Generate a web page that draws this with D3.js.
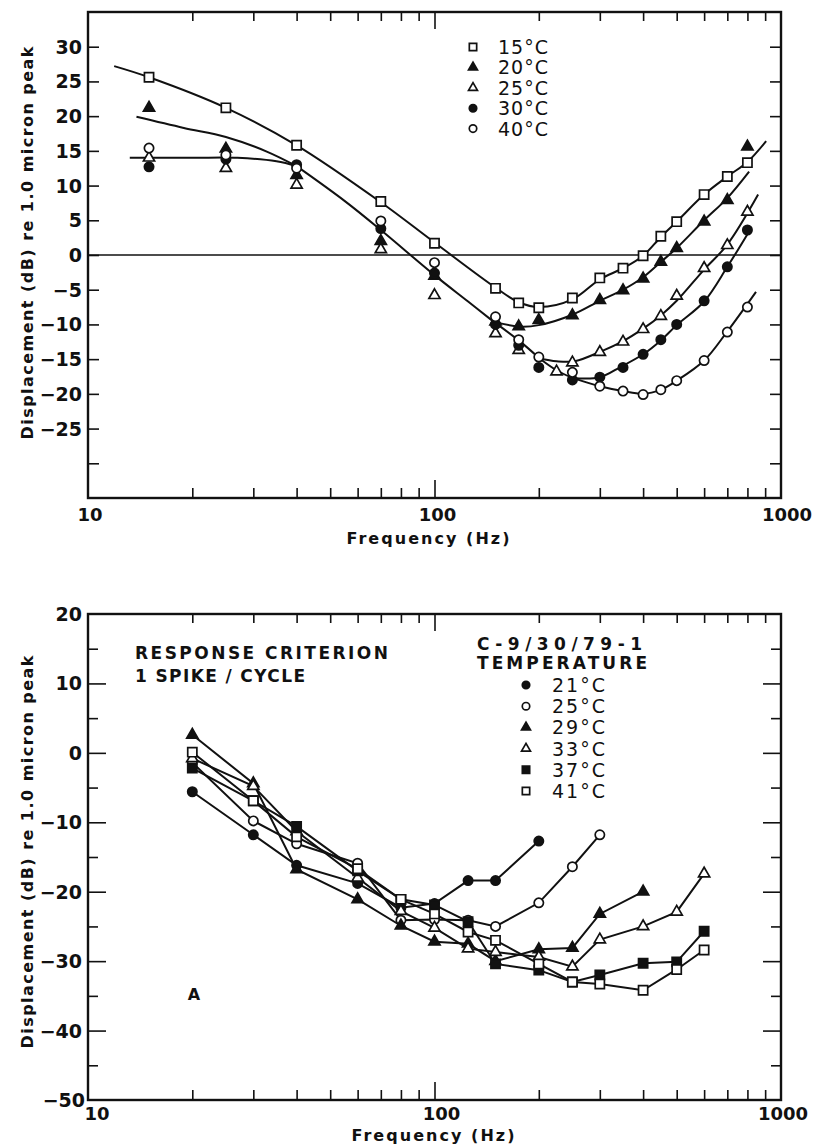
<!DOCTYPE html>
<html>
<head>
<meta charset="utf-8">
<script src="https://cdn.jsdelivr.net/npm/d3@7"></script>
<style>
  body { margin: 0; background: #fff; }
  text { font-family: "DejaVu Sans", sans-serif; fill: #111; font-weight: bold; }
  .tick line { stroke: #111; stroke-width: 1.6; }
</style>
</head>
<body>
<svg id="fig" width="831" height="1147"></svg>
<script>
// ---------- Upper panel: displacement thresholds, fitted curves ----------
const topFreqs   = [15, 25, 40, 70, 100, 150, 175, 200, 250, 300, 350, 400, 450, 500, 600, 700, 800];
const top25Freqs = [15, 25, 40, 70, 100, 150, 175, 225, 250, 300, 350, 400, 450, 500, 600, 700, 800];
const top15 = [25.6, 21.2, 15.8, 7.7, 1.7, -4.8, -6.9, -7.6, -6.2, -3.3, -1.9, -0.1, 2.7, 4.8, 8.7, 11.3, 13.3];
const top20 = [21.2, 15.3, 11.5, 2.0, -3.0, -9.6, -10.3, -9.4, -8.7, -6.5, -5.1, -3.4, -1.0, 1.0, 4.8, 7.9, 15.6];
const top25 = [14.0, 12.5, 10.1, 0.8, -5.8, -11.3, -13.7, -16.8, -15.5, -14.0, -12.5, -10.7, -8.8, -5.9, -1.9, 1.4, 6.2];
const top30 = [12.7, 13.8, 13.0, 3.8, -2.6, -10.0, -13.0, -16.2, -18.0, -17.6, -16.2, -14.3, -12.2, -10.0, -6.6, -1.7, 3.6];
const top40 = [15.4, 14.4, 12.5, 4.9, -1.1, -8.9, -12.2, -14.7, -16.9, -18.9, -19.6, -20.1, -19.4, -18.1, -15.2, -11.1, -7.5];

// hand-fitted curves, as [frequency, dB] nodes; branches share their junction node
const fit15      = [[11.9, 27.2], [15, 25.6], [25, 21.2], [40, 15.8], [70, 7.6], [100, 1.8], [150, -4.7], [175, -6.8], [200, -7.5], [250, -6.4], [300, -3.5], [350, -1.9], [400, -0.1], [450, 2.6], [500, 4.8], [600, 8.7], [700, 11.3], [800, 13.4], [906, 16.4]];
const fitLow20   = [[13.8, 19.9], [18.9, 18.3], [25, 17.0], [32.8, 14.9], [40, 12.8]];
const fitLowFlat = [[13.2, 14.0], [20, 14.0], [27, 14.0], [35, 13.5], [40, 12.8]];
const fitTrunk   = [[40, 12.8], [55, 7.8], [70, 3.6], [100, -2.9], [125, -6.7], [148, -9.6]];
const fit20      = [[148, -9.6], [175, -10.3], [200, -10.1], [250, -8.6], [300, -6.6], [350, -5.0], [400, -3.2], [450, -1.0], [500, 1.0], [600, 5.0], [700, 8.2], [809, 12.0]];
const fitTrunk2  = [[148, -9.6], [175, -12.3], [201, -14.9]];
const fit25      = [[201, -14.9], [225, -15.3], [254, -15.3], [305, -13.8], [350, -12.4], [400, -10.6], [450, -8.7], [500, -6.6], [600, -2.1], [700, 1.5], [859, 8.7]];
const fitTrunk3  = [[201, -14.9], [225, -16.6], [250, -17.7]];
const fit30      = [[250, -17.7], [300, -17.6], [345, -16.1], [400, -14.3], [450, -12.3], [500, -10.1], [600, -6.7], [700, -1.7], [809, 3.4]];
const fit40      = [[250, -17.7], [300, -18.9], [350, -19.6], [400, -20.0], [450, -19.4], [500, -18.1], [600, -15.2], [700, -11.0], [847, -5.3]];

const topTickLabels = [30, 25, 20, 15, 10, 5, 0, -5, -10, -15, -20, -25];
const topTicks = d3.range(-30, 35, 5);

// ---------- Lower panel: 1 spike/cycle thresholds ----------
const botFreqs = [20, 30, 40, 60, 80, 100, 125, 150, 200, 250, 300, 400, 500, 600];
const b21 = [-5.6, -11.8, -16.2, -18.8, -22.3, -21.7, -18.4, -18.4, -12.7];
const b25 = [-1.4, -9.8, -13.1, -15.9, -24.1, -24.0, -24.1, -25.0, -21.6, -16.4, -11.8];
const b29 = [2.6, -4.4, -16.8, -21.1, -24.9, -27.2, -27.5, -30.0, -28.3, -28.1, -23.2, -20.0];
const b33 = [-0.8, -4.8, -11.3, -18.0, -22.8, -25.2, -28.2, -28.7, -29.4, -30.8, -26.9, -25.0, -22.9, -17.4];
const b37 = [-2.2, -6.9, -10.6, -17.0, -21.1, -21.9, -24.3, -30.4, -31.3, -33.0, -32.0, -30.3, -30.1, -25.7];
const b41 = [0.1, -6.9, -12.1, -16.7, -21.1, -23.2, -25.8, -27.0, -30.4, -33.0, -33.3, -34.2, -31.2, -28.4];

const botTickLabels = [10, 0, -10, -20, -30, -40];
const botMinorTicks = [15, 5, -5, -15, -25, -35, -45];

const freqMinor = [20, 30, 40, 50, 60, 70, 80, 90, 200, 300, 400, 500, 600, 700, 800, 900];
const freqMajor = [100];
const freqLabels = ["10", "100", "1000"];

// ---------- scales ----------
const svg = d3.select("#fig");
const xTop = d3.scaleLog().domain([10, 1000]).range([88, 781]);
const yTop = d3.scaleLinear().domain([-35, 35]).range([498, 12]);
const xBot = d3.scaleLog().domain([10, 1000]).range([88, 781]);
const yBot = d3.scaleLinear().domain([-50, 20]).range([1100, 614]);

const shapes = { circle: d3.symbolCircle, square: d3.symbolSquare, triangle: d3.symbolTriangle };
const shapeSize = { circle: 68, square: 84, triangle: 54 };

function marker(sel, shape, filled, scale = 1) {
  sel.attr("d", d3.symbol().type(shapes[shape]).size(shapeSize[shape] * scale * scale))
    .attr("fill", filled ? "#111" : "#fff")
    .attr("stroke", "#111")
    .attr("stroke-width", 1.7);
}

function frame(x, y, opt) {
  const g = svg.append("g");
  const [x0, x1] = x.range();
  const [yb, yt] = y.range();
  const clean = a => a.select(".domain").remove();
  // frequency ticks, pointing inward from bottom and top
  g.append("g").attr("transform", `translate(0,${yb})`)
    .call(d3.axisBottom(x).tickValues(freqMinor).tickSize(-10).tickFormat("")).call(clean);
  g.append("g").attr("transform", `translate(0,${yb})`)
    .call(d3.axisBottom(x).tickValues(freqMajor).tickSize(-18).tickFormat("")).call(clean);
  g.append("g").attr("transform", `translate(0,${yt})`)
    .call(d3.axisTop(x).tickValues(freqMinor).tickSize(-9).tickFormat("")).call(clean);
  g.append("g").attr("transform", `translate(0,${yt})`)
    .call(d3.axisTop(x).tickValues(freqMajor).tickSize(-17).tickFormat("")).call(clean);
  // level ticks, pointing inward from left and right
  g.append("g").attr("transform", `translate(${x0},0)`)
    .call(d3.axisLeft(y).tickValues(opt.major).tickSize(-opt.majorLen).tickFormat("")).call(clean);
  g.append("g").attr("transform", `translate(${x1},0)`)
    .call(d3.axisRight(y).tickValues(opt.major).tickSize(-opt.majorLen).tickFormat("")).call(clean);
  if (opt.minor) {
    g.append("g").attr("transform", `translate(${x0},0)`)
      .call(d3.axisLeft(y).tickValues(opt.minor).tickSize(-10).tickFormat("")).call(clean);
    g.append("g").attr("transform", `translate(${x1},0)`)
      .call(d3.axisRight(y).tickValues(opt.minor).tickSize(-10).tickFormat("")).call(clean);
  }
  g.append("rect").attr("x", x0).attr("y", yt).attr("width", x1 - x0).attr("height", yb - yt)
    .attr("fill", "none").attr("stroke", "#111").attr("stroke-width", 2.4);
  return g;
}

function yLabels(y, values, xr) {
  svg.append("g").selectAll("text").data(values).join("text")
    .attr("x", xr).attr("y", d => y(d))
    .attr("text-anchor", "end").attr("dominant-baseline", "central")
    .style("font-size", "19px")
    .text(d => (d < 0 ? "\u2212" + Math.abs(d) : d));
}

function xLabels(x, yPos, dx) {
  svg.append("g").selectAll("text").data(freqLabels).join("text")
    .attr("x", (d, i) => x(+d) + dx[i]).attr("y", yPos)
    .attr("text-anchor", "middle").attr("dominant-baseline", "central")
    .style("font-size", "18px")
    .text(d => d);
}

function axisTitles(cx, cy, ly) {
  svg.append("text").attr("x", cx).attr("y", cy)
    .attr("text-anchor", "middle").attr("dominant-baseline", "central")
    .attr("textLength", 163).attr("lengthAdjust", "spacing")
    .style("font-size", "16px").text("Frequency (Hz)");
  svg.append("text").attr("transform", `translate(27,${ly}) rotate(-90)`)
    .attr("text-anchor", "middle").attr("dominant-baseline", "central")
    .attr("textLength", 393).attr("lengthAdjust", "spacing")
    .style("font-size", "16px").text("Displacement (dB) re 1.0 micron peak");
}

function note(x, y, len, str) {
  svg.append("text").attr("x", x).attr("y", y).attr("dominant-baseline", "central")
    .attr("textLength", len).attr("lengthAdjust", "spacing")
    .style("font-size", "17px").text(str);
}

// ================= upper panel =================
frame(xTop, yTop, { major: topTicks, majorLen: 11 });
svg.append("line")
  .attr("x1", xTop.range()[0]).attr("x2", xTop.range()[1])
  .attr("y1", yTop(0)).attr("y2", yTop(0))
  .attr("stroke", "#111").attr("stroke-width", 1.5);

const fitLine = d3.line().x(d => xTop(d[0])).y(d => yTop(d[1])).curve(d3.curveCatmullRom.alpha(0.5));
svg.append("g").selectAll("path")
  .data([fit15, fitLow20, fitLowFlat, fitTrunk, fit20, fitTrunk2, fit25, fitTrunk3, fit30, fit40])
  .join("path").attr("d", fitLine)
  .attr("fill", "none").attr("stroke", "#111").attr("stroke-width", 2);

const topSeries = [
  { name: "15\u00b0C", shape: "square",   filled: false, f: topFreqs,   v: top15 },
  { name: "20\u00b0C", shape: "triangle", filled: true,  f: topFreqs,   v: top20 },
  { name: "25\u00b0C", shape: "triangle", filled: false, f: top25Freqs, v: top25 },
  { name: "30\u00b0C", shape: "circle",   filled: true,  f: topFreqs,   v: top30 },
  { name: "40\u00b0C", shape: "circle",   filled: false, f: topFreqs,   v: top40 }
];
topSeries.forEach(s => {
  svg.append("g").selectAll("path").data(s.v.map((v, i) => [s.f[i], v])).join("path")
    .attr("transform", d => `translate(${xTop(d[0])},${yTop(d[1])})`)
    .call(marker, s.shape, s.filled);
});

yLabels(yTop, topTickLabels, 82);
xLabels(xTop, 514, [2, 3, 6]);
axisTitles(428, 538, 243);

const legTop = svg.append("g");
topSeries.forEach((s, i) => {
  const yy = 47 + i * 20.4;
  legTop.append("path").attr("transform", `translate(473,${yy})`).call(marker, s.shape, s.filled, 0.8);
  legTop.append("text").attr("x", 498).attr("y", yy).attr("dominant-baseline", "central")
    .attr("textLength", 50).attr("lengthAdjust", "spacing")
    .style("font-size", "19px").style("font-weight", "normal").text(s.name);
});

// ================= lower panel =================
frame(xBot, yBot, { major: botTickLabels, majorLen: 18, minor: botMinorTicks });

const botSeries = [
  { name: "21\u00b0C", shape: "circle",   filled: true,  v: b21 },
  { name: "25\u00b0C", shape: "circle",   filled: false, v: b25 },
  { name: "29\u00b0C", shape: "triangle", filled: true,  v: b29 },
  { name: "33\u00b0C", shape: "triangle", filled: false, v: b33 },
  { name: "37\u00b0C", shape: "square",   filled: true,  v: b37 },
  { name: "41\u00b0C", shape: "square",   filled: false, v: b41 }
];
const polyLine = d3.line().x(d => xBot(d[0])).y(d => yBot(d[1]));
botSeries.forEach(s => {
  s.pts = s.v.map((v, i) => [botFreqs[i], v]);
  svg.append("path").attr("d", polyLine(s.pts))
    .attr("fill", "none").attr("stroke", "#111").attr("stroke-width", 2);
});
botSeries.forEach(s => {
  svg.append("g").selectAll("path").data(s.pts).join("path")
    .attr("transform", d => `translate(${xBot(d[0])},${yBot(d[1])})`)
    .call(marker, s.shape, s.filled);
});

yLabels(yBot, [20, ...botTickLabels], 82);
svg.append("text").attr("x", 85).attr("y", yBot(-50)).attr("text-anchor", "end")
  .attr("dominant-baseline", "central").style("font-size", "19px").text("\u221250");
xLabels(xBot, 1113, [9, 7, 2]);
axisTitles(433, 1135, 852);

note(135, 653, 253, "RESPONSE CRITERION");
note(135, 676, 170, "1 SPIKE / CYCLE");
note(477, 644, 165, "C-9/30/79-1");
note(477, 663, 170, "TEMPERATURE");

const legBot = svg.append("g");
botSeries.forEach((s, i) => {
  const yy = 685 + i * 21.2;
  legBot.append("path").attr("transform", `translate(526,${yy})`).call(marker, s.shape, s.filled, 0.8);
  legBot.append("text").attr("x", 552).attr("y", yy).attr("dominant-baseline", "central")
    .attr("textLength", 53).attr("lengthAdjust", "spacing")
    .style("font-size", "19px").style("font-weight", "normal").text(s.name);
});

svg.append("text").attr("x", 194).attr("y", 994).attr("text-anchor", "middle")
  .attr("dominant-baseline", "central").style("font-size", "16px").text("A");
</script>
</body>
</html>
